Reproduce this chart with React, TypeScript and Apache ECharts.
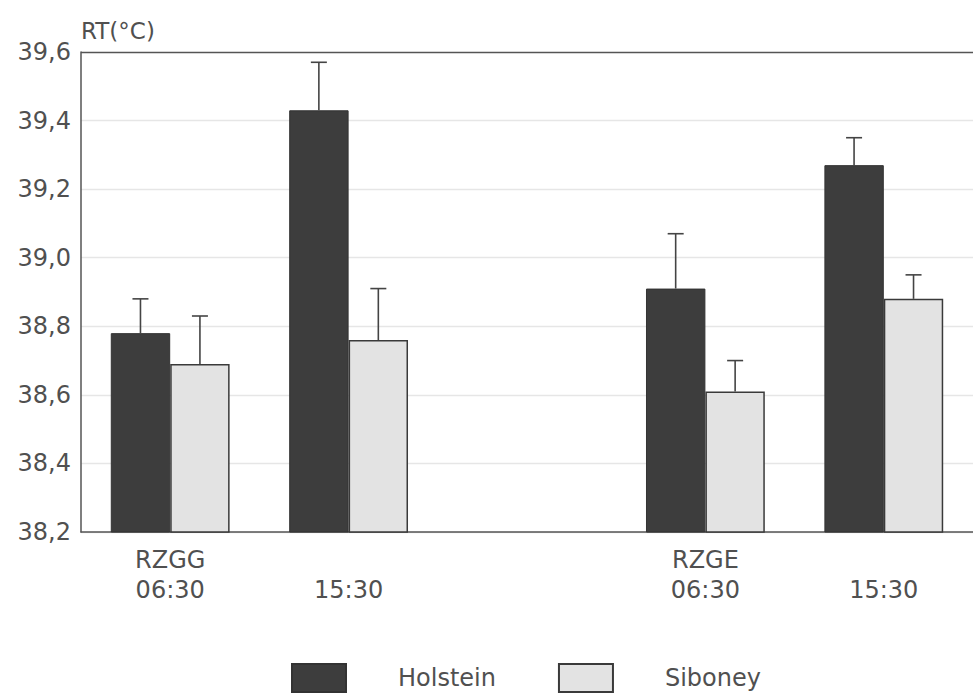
import React, { useEffect, useRef } from "react";
import * as echarts from "echarts";

const groupLabels = ["RZGG", "", "", "RZGE", ""];
const timeLabels = ["06:30", "15:30", "", "06:30", "15:30"];
const categories = ["RZGG 06:30", "RZGG 15:30", "gap", "RZGE 06:30", "RZGE 15:30"];
const holstein = [38.78, 39.43, null, 38.91, 39.27];
const holsteinErr = [38.88, 39.57, null, 39.07, 39.35];
const siboney = [38.69, 38.76, null, 38.61, 38.88];
const siboneyErr = [38.83, 38.91, null, 38.7, 38.95];
const yTicks = { min: 38.2, max: 39.6, interval: 0.2 };

const FONT = "DejaVu Sans";
const TXT = "#505050";
const INK = "#444444";

function errorSeries(name: string, tops: (number | null)[], vals: (number | null)[], side: number) {
  const data = vals.map((v, i) => (v == null ? [i, null, null] : [i, v, tops[i]]));
  return {
    type: "custom",
    name: name + " SE",
    z: 5,
    data,
    renderItem: (params: any, api: any) => {
      const v = api.value(1);
      const t = api.value(2);
      if (v == null || isNaN(v)) return null;
      const idx = api.value(0);
      const band = api.size([1, 0])[0];
      const off = (band / 6) * side;
      const p0 = api.coord([idx, v]);
      const p1 = api.coord([idx, t]);
      const x = p0[0] + off;
      const style = { stroke: INK, lineWidth: 1.6 };
      return {
        type: "group",
        children: [
          { type: "line", shape: { x1: x, y1: p0[1], x2: x, y2: p1[1] }, style },
          { type: "line", shape: { x1: x - 8, y1: p1[1], x2: x + 8, y2: p1[1] }, style },
        ],
      };
    },
  };
}

export default function App() {
  const ref = useRef<HTMLDivElement>(null);
  useEffect(() => {
    const chart = echarts.init(ref.current!, null, { renderer: "svg" });
    const splitColors = Array(7).fill("#e6e6e6").concat(["#555555"]);
    chart.setOption({
      animation: false,
      backgroundColor: "#ffffff",
      textStyle: { fontFamily: FONT },
      grid: { left: 81, top: 52, bottom: 164, right: -9, containLabel: false },
      legend: {
        data: ["Holstein", "Siboney"],
        top: 658,
        left: 286,
        itemWidth: 54,
        itemHeight: 28,
        itemGap: 62,
        icon: "rect",
        textStyle: { fontFamily: FONT, fontSize: 24, color: TXT, padding: [0, 0, 0, 47] },
        selectedMode: false,
      },
      xAxis: {
        type: "category",
        data: categories,
        axisLine: { lineStyle: { color: "#555", width: 1.5 } },
        axisTick: { show: false },
        axisLabel: {
          fontFamily: FONT,
          fontSize: 24,
          color: TXT,
          lineHeight: 30,
          margin: 13,
          interval: 0,
          formatter: (_v: string, i: number) => `${groupLabels[i]}\n${timeLabels[i]}`,
        },
      },
      yAxis: {
        type: "value",
        min: yTicks.min,
        max: yTicks.max,
        interval: yTicks.interval,
        name: "RT(°C)",
        nameLocation: "end",
        nameGap: 21,
        nameTextStyle: { fontFamily: FONT, fontSize: 23, color: TXT, align: "left", verticalAlign: "middle" },
        axisLine: { show: true, lineStyle: { color: "#555", width: 1.5 } },
        axisTick: { show: false },
        axisLabel: {
          fontFamily: FONT,
          fontSize: 24,
          color: TXT,
          margin: 10,
          formatter: (v: number) => v.toFixed(1).replace(".", ","),
        },
        splitLine: { show: true, lineStyle: { color: splitColors, width: 1.3 } },
      },
      series: [
        {
          name: "Holstein",
          type: "bar",
          data: holstein,
          barWidth: "33.3%",
          barGap: "0%",
          itemStyle: { color: "#3d3d3d", borderColor: "#333", borderWidth: 1 },
        },
        {
          name: "Siboney",
          type: "bar",
          data: siboney,
          barWidth: "33.3%",
          barGap: "0%",
          itemStyle: { color: "#e3e3e3", borderColor: "#3a3a3a", borderWidth: 1.5 },
        },
        errorSeries("Holstein", holsteinErr, holstein, -1),
        errorSeries("Siboney", siboneyErr, siboney, 1),
      ],
    });
    return () => chart.dispose();
  }, []);
  return <div ref={ref} style={{ width: 973, height: 696, position: "fixed", left: 0, top: 0 }} />;
}
